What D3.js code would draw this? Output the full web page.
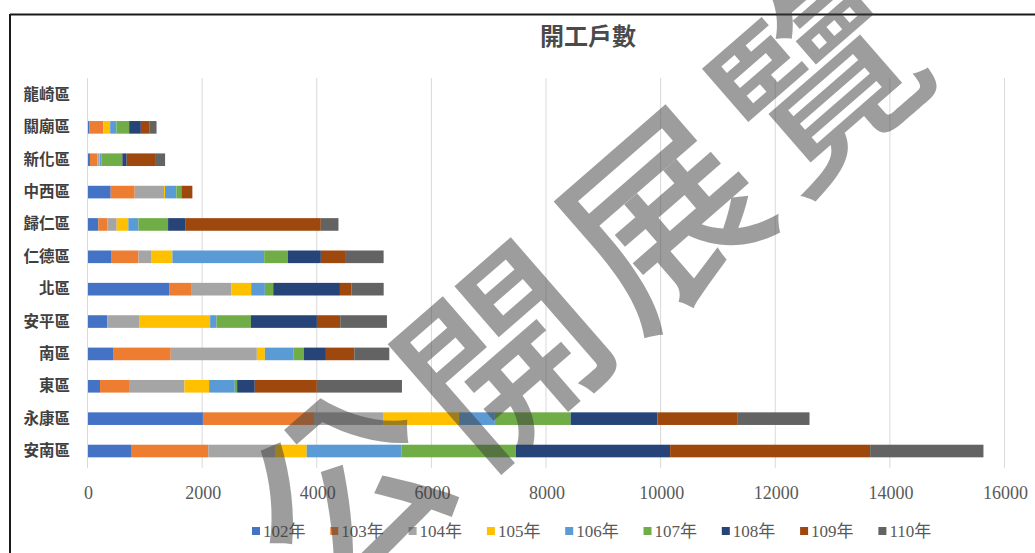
<!DOCTYPE html>
<html>
<head>
<meta charset="utf-8">
<script src="https://cdn.jsdelivr.net/npm/d3@7"></script>
<style>
  html, body { margin: 0; padding: 0; background: #fff; }
  svg { display: block; }
</style>
</head>
<body>
<svg id="chart" width="1035" height="553"></svg>
<script>
// Districts, top to bottom
const districts = ["龍崎區", "關廟區", "新化區", "中西區", "歸仁區", "仁德區", "北區", "安平區", "南區", "東區", "永康區", "安南區"];
const years = ["102年", "103年", "104年", "105年", "106年", "107年", "108年", "109年", "110年"];

// Housing starts per district, one array per year (same order as districts)
const y102 = [0, 20, 35, 396, 180, 413, 1415, 338, 437, 210, 2005, 750];
const y103 = [0, 245, 128, 419, 157, 466, 396, 0, 1007, 506, 1938, 1349];
const y104 = [0, 0, 29, 512, 163, 221, 687, 553, 1502, 966, 1205, 1164];
const y105 = [0, 122, 17, 17, 204, 373, 349, 1240, 140, 431, 1327, 553];
const y106 = [0, 110, 29, 198, 175, 1601, 239, 111, 495, 448, 624, 1658];
const y107 = [0, 221, 361, 87, 518, 413, 146, 600, 186, 41, 1322, 1990];
const y108 = [0, 204, 76, 0, 308, 576, 1164, 1152, 384, 308, 1513, 2693];
const y109 = [0, 146, 495, 192, 2357, 437, 204, 407, 495, 1083, 1392, 3490];
const y110 = [0, 128, 175, 0, 308, 658, 559, 815, 611, 1485, 1263, 1977];

const xTicks = [0, 2000, 4000, 6000, 8000, 10000, 12000, 14000, 16000];
const titleText = "開工戶數";
const stampText = "公開展覽";

const seriesValues = [y102, y103, y104, y105, y106, y107, y108, y109, y110];
const colors = ["#4472C4", "#ED7D31", "#A5A5A5", "#FFC000", "#5B9BD5", "#70AD47", "#264478", "#9E480E", "#636363"];

// Rows for d3.stack
const rows = districts.map((d, i) => {
  const r = { district: d };
  years.forEach((y, j) => { r[y] = seriesValues[j][i]; });
  return r;
});

const svg = d3.select("#chart");
const W = 1035, H = 553;

const x = d3.scaleLinear().domain([0, 16000]).range([88, 1005]);
const y = d3.scaleBand().domain(districts).range([78.8, 467.2]).paddingInner(0.61).paddingOuter(0.305);
const color = d3.scaleOrdinal().domain(years).range(colors);

// Frame lines
svg.append("line").attr("x1", 10).attr("x2", W).attr("y1", 14.5).attr("y2", 14.5)
  .attr("stroke", "#1a1a1a").attr("stroke-width", 2);
svg.append("line").attr("x1", 10).attr("x2", 10).attr("y1", 14).attr("y2", H)
  .attr("stroke", "#1a1a1a").attr("stroke-width", 2);

// Title
svg.append("text")
  .attr("x", 588).attr("y", 34)
  .attr("text-anchor", "middle").attr("dominant-baseline", "central")
  .attr("font-family", "'Noto Sans CJK TC', sans-serif")
  .attr("font-weight", 700).attr("font-size", 24)
  .attr("fill", "#4a4a4a")
  .text(titleText);

// Vertical gridlines
svg.append("g").selectAll("line").data(xTicks).join("line")
  .attr("x1", d => x(d) - 0.5).attr("x2", d => x(d) - 0.5)
  .attr("y1", 78).attr("y2", 468)
  .attr("stroke", "#d9d9d9").attr("stroke-width", 1);

// X axis labels
const xAxis = d3.axisBottom(x).tickValues(xTicks).tickSize(0).tickPadding(0).tickFormat(d3.format("d"));
const gx = svg.append("g").attr("transform", "translate(0,485)").call(xAxis);
gx.select(".domain").remove();
gx.selectAll("text")
  .attr("font-family", "'Liberation Serif', serif")
  .attr("font-size", 18)
  .attr("fill", "#595959")
  .attr("dy", "0.75em");

// Y axis labels
const yAxis = d3.axisLeft(y).tickSize(0).tickPadding(0);
const gy = svg.append("g").attr("transform", "translate(70,0)").call(yAxis);
gy.select(".domain").remove();
gy.selectAll("text")
  .attr("font-family", "'Noto Sans CJK TC', sans-serif")
  .attr("font-weight", 700)
  .attr("font-size", 15.5)
  .attr("fill", "#404040");

// Stacked bars
const stacked = d3.stack().keys(years)(rows);
svg.append("g").selectAll("g").data(stacked).join("g")
  .attr("fill", d => color(d.key))
  .selectAll("rect").data(d => d).join("rect")
  .attr("x", d => x(d[0]))
  .attr("y", d => y(d.data.district))
  .attr("width", d => Math.max(0, x(d[1]) - x(d[0])))
  .attr("height", y.bandwidth());

// Legend
const legend = svg.append("g").attr("transform", "translate(252,531)");
const item = legend.selectAll("g").data(years).join("g")
  .attr("transform", (d, i) => `translate(${i * 78.3},0)`);
item.append("rect").attr("x", 0).attr("y", -4).attr("width", 8).attr("height", 8)
  .attr("fill", d => color(d));
item.append("text").attr("x", 11).attr("y", 0)
  .attr("dominant-baseline", "central")
  .attr("font-family", "'Liberation Serif', 'Noto Sans CJK TC', serif")
  .attr("font-size", 17)
  .attr("fill", "#595959")
  .text(d => d);

// Exhibition stamp across the chart
svg.append("text")
  .attr("transform", "translate(580,272) rotate(-41)")
  .attr("text-anchor", "middle").attr("dominant-baseline", "central")
  .attr("font-family", "'Noto Sans CJK TC', sans-serif")
  .attr("font-weight", 500).attr("font-size", 195)
  .attr("letter-spacing", 14)
  .attr("fill", "#3c3c3c").attr("fill-opacity", 0.5)
  .text(stampText);
</script>
</body>
</html>
